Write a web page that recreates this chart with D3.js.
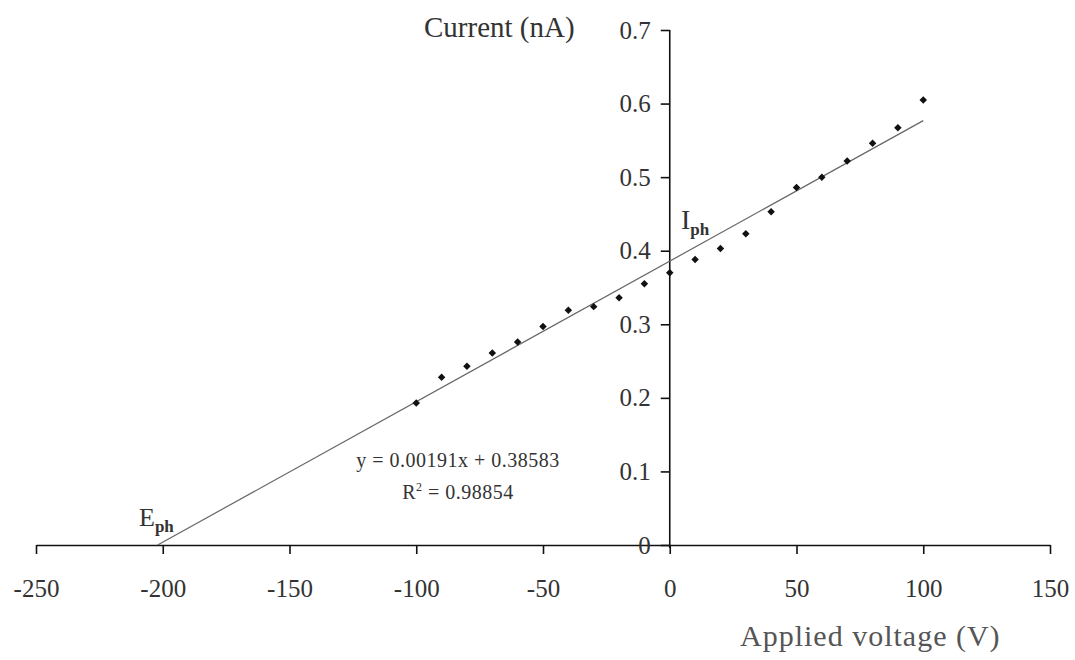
<!DOCTYPE html>
<html lang="en">
<head>
  <meta charset="UTF-8">
  <title>Applied voltage vs current</title>
  <script src="https://d3js.org/d3.v7.min.js"></script>
  <style>
    body {
      margin: 0;
      background: #fff;
    }

    svg text {
      font-family: "Liberation Serif", "Times New Roman", serif;
      fill: #333;
    }

    .axis path,
    .axis line {
      stroke: #111;
      stroke-width: 1.6;
    }

    .axis text {
      font-size: 25px;
    }

    .fit-line {
      stroke: #666;
      stroke-width: 1.2;
      fill: none;
    }
  </style>
</head>
<body>
  <svg class="chart" width="1075" height="660"></svg>

  <script>
    // measured points (V, nA)
    const voltages = [-100, -90, -80, -70, -60, -50, -40, -30, -20, -10, 0,
      10, 20, 30, 40, 50, 60, 70, 80, 90, 100];
    const currents = [0.193, 0.228, 0.243, 0.261, 0.276, 0.297, 0.319, 0.324, 0.336, 0.355, 0.370,
      0.388, 0.403, 0.423, 0.453, 0.486, 0.500, 0.522, 0.546, 0.567, 0.605];

    // linear fit shown on the chart
    const slope = 0.00191;
    const intercept = 0.38583;
    const rSquared = 0.98854;

    const xTicks = [-250, -200, -150, -100, -50, 0, 50, 100, 150];
    const yTicks = [0, 0.1, 0.2, 0.3, 0.4, 0.5, 0.6, 0.7];

    const svg = d3.select(".chart");

    const x = d3.scaleLinear()
      .domain([-250, 150])
      .range([36, 1050]);

    const y = d3.scaleLinear()
      .domain([0, 0.7])
      .range([545, 30]);

    // x axis sits on y = 0
    const xAxis = svg.append("g")
      .attr("class", "axis")
      .attr("transform", `translate(0,${y(0)})`)
      .call(d3.axisBottom(x).tickValues(xTicks).tickSize(9).tickSizeOuter(0).tickPadding(25).tickFormat(d => d));
    xAxis.selectAll("text").attr("fill", "#333");

    // y axis sits on x = 0
    const yAxis = svg.append("g")
      .attr("class", "axis")
      .attr("transform", `translate(${x(0)},0)`)
      .call(d3.axisLeft(y).tickValues(yTicks).tickSize(9).tickSizeOuter(0).tickPadding(10).tickFormat(d => d));
    yAxis.selectAll("text").attr("fill", "#333");
    yAxis.select(".domain").attr("d", `M0,${y(0.7)}V${y(0) + 3}`);

    // trend line from the x-intercept to the last point
    const xStart = -intercept / slope;
    const xEnd = d3.max(voltages);
    svg.append("line")
      .attr("class", "fit-line")
      .attr("x1", x(xStart))
      .attr("y1", y(0))
      .attr("x2", x(xEnd))
      .attr("y2", y(slope * xEnd + intercept));

    const points = voltages.map((v, i) => ({ v, c: currents[i] }));

    svg.selectAll(".point")
      .data(points)
      .enter()
      .append("path")
      .attr("class", "point")
      .attr("d", d3.symbol(d3.symbolSquare, 28))
      .attr("transform", d => `translate(${x(d.v)},${y(d.c)}) rotate(45)`)
      .attr("fill", "#111");

    // axis titles
    svg.append("text")
      .attr("x", 424)
      .attr("y", 37)
      .style("font-size", "29px")
      .text("Current (nA)");

    svg.append("text")
      .attr("x", 740)
      .attr("y", 646)
      .style("font-size", "30px")
      .style("letter-spacing", "1px")
      .style("fill", "#555")
      .text("Applied voltage (V)");

    // equation
    svg.append("text")
      .attr("x", 458)
      .attr("y", 467)
      .attr("text-anchor", "middle")
      .style("font-size", "20px")
      .style("letter-spacing", "0.5px")
      .text(`y = ${slope}x + ${intercept}`);

    const r2 = svg.append("text")
      .attr("x", 458)
      .attr("y", 499)
      .attr("text-anchor", "middle")
      .style("font-size", "20px")
      .style("letter-spacing", "0.5px");
    r2.append("tspan").text("R");
    r2.append("tspan").attr("dy", -8).style("font-size", "12px").text("2");
    r2.append("tspan").attr("dy", 8).text(` = ${rSquared}`);

    // E_ph and I_ph labels
    const eph = svg.append("text")
      .attr("x", 139)
      .attr("y", 526)
      .style("font-size", "26px");
    eph.append("tspan").text("E");
    eph.append("tspan").attr("dy", 6).style("font-size", "17px").style("font-weight", "bold").text("ph");

    const iph = svg.append("text")
      .attr("x", 681)
      .attr("y", 229)
      .style("font-size", "28px");
    iph.append("tspan").text("I");
    iph.append("tspan").attr("dy", 6).style("font-size", "17px").style("font-weight", "bold").text("ph");
  </script>
</body>
</html>
